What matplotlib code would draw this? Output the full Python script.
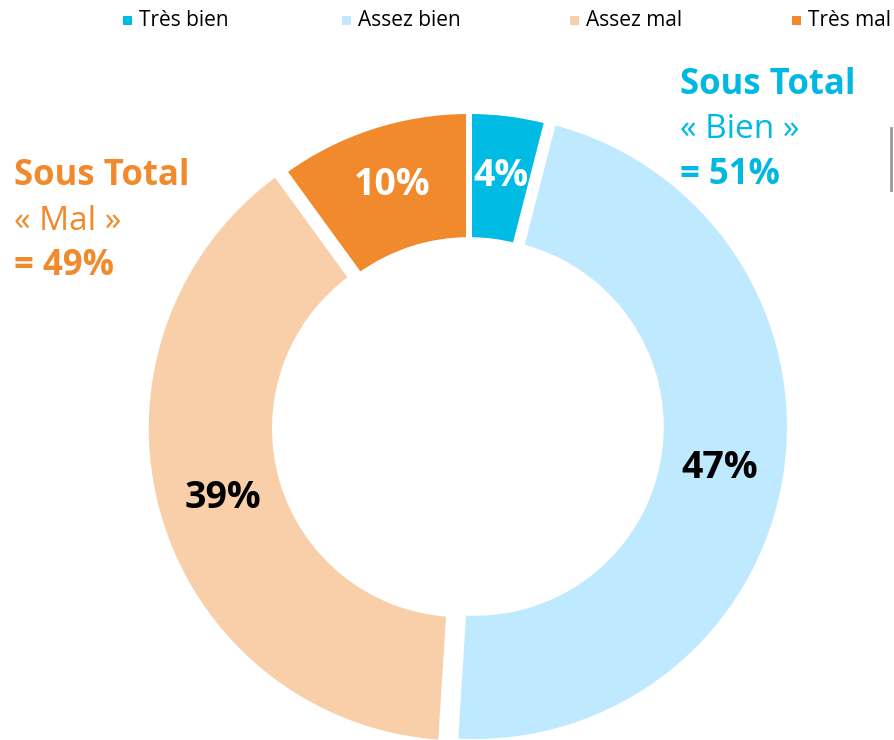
import matplotlib.pyplot as plt
from matplotlib.patches import Rectangle

# data
categories = ["Très bien", "Assez bien", "Assez mal", "Très mal"]
values = [4, 47, 39, 10]
colors = ["#00BCE4", "#BEE9FE", "#F8CFA9", "#F08A2C"]
label_colors = ["white", "black", "black", "white"]
explode = [0, 0.019, 0.027, 0]

W, H = 894, 740
R = 315.0
cx, cy = 469, 426

plt.rcParams['font.family'] = ['Open Sans', 'DejaVu Sans']

fig = plt.figure(figsize=(W / 100, H / 100), dpi=100)
ax = fig.add_axes([0, 0, 1, 1])

wedges, _ = ax.pie(values, colors=colors, startangle=90, counterclock=False,
                   explode=explode, radius=1,
                   wedgeprops=dict(width=0.41, edgecolor='white', linewidth=4.3))

# pie() resets the limits, so set them afterwards
ax.set_xlim(-cx / R, (W - cx) / R)
ax.set_ylim(-(H - cy) / R, cy / R)
ax.set_aspect('equal')
ax.axis('off')


def px(x, y):
    return x / W, 1 - y / H


# percent labels (pixel positions of the reference)
label_pos = [(501, 176), (720, 468), (223, 498), (392, 185)]
for (x, y), v, c in zip(label_pos, values, label_colors):
    fig.text(*px(x, y), f"{v}%", color=c, fontsize=27,
             fontweight='bold', ha='center', va='center')

# sub totals
blue = "#00B8E2"
orange = "#F08A2C"
fig.text(*px(680, 85), "Sous Total", color=blue, fontsize=25, fontweight='bold', va='center')
fig.text(*px(680, 130), "« Bien »", color=blue, fontsize=24, va='center')
fig.text(*px(680, 175), "= 51%", color=blue, fontsize=25, fontweight='bold', va='center')

fig.text(*px(14, 176), "Sous Total", color=orange, fontsize=25, fontweight='bold', va='center')
fig.text(*px(14, 222), "« Mal »", color=orange, fontsize=24, va='center')
fig.text(*px(14, 266), "= 49%", color=orange, fontsize=25, fontweight='bold', va='center')

# legend across the top
leg_x = [127, 346, 574, 796]
for x, lab, c in zip(leg_x, categories, colors):
    fig.patches.append(Rectangle(px(x - 4, 25), 9 / W, 9 / H, transform=fig.transFigure,
                                 facecolor=c, edgecolor='none'))
    fig.text(*px(x + 12, 20), lab, fontsize=15, va='center')

# partial frame at right edge
fig.lines.append(plt.Line2D([891 / W, 891 / W], [1 - 128 / H, 1 - 190 / H],
                            transform=fig.transFigure, color='#999999', lw=2))

fig.savefig("out.png", dpi=100)
